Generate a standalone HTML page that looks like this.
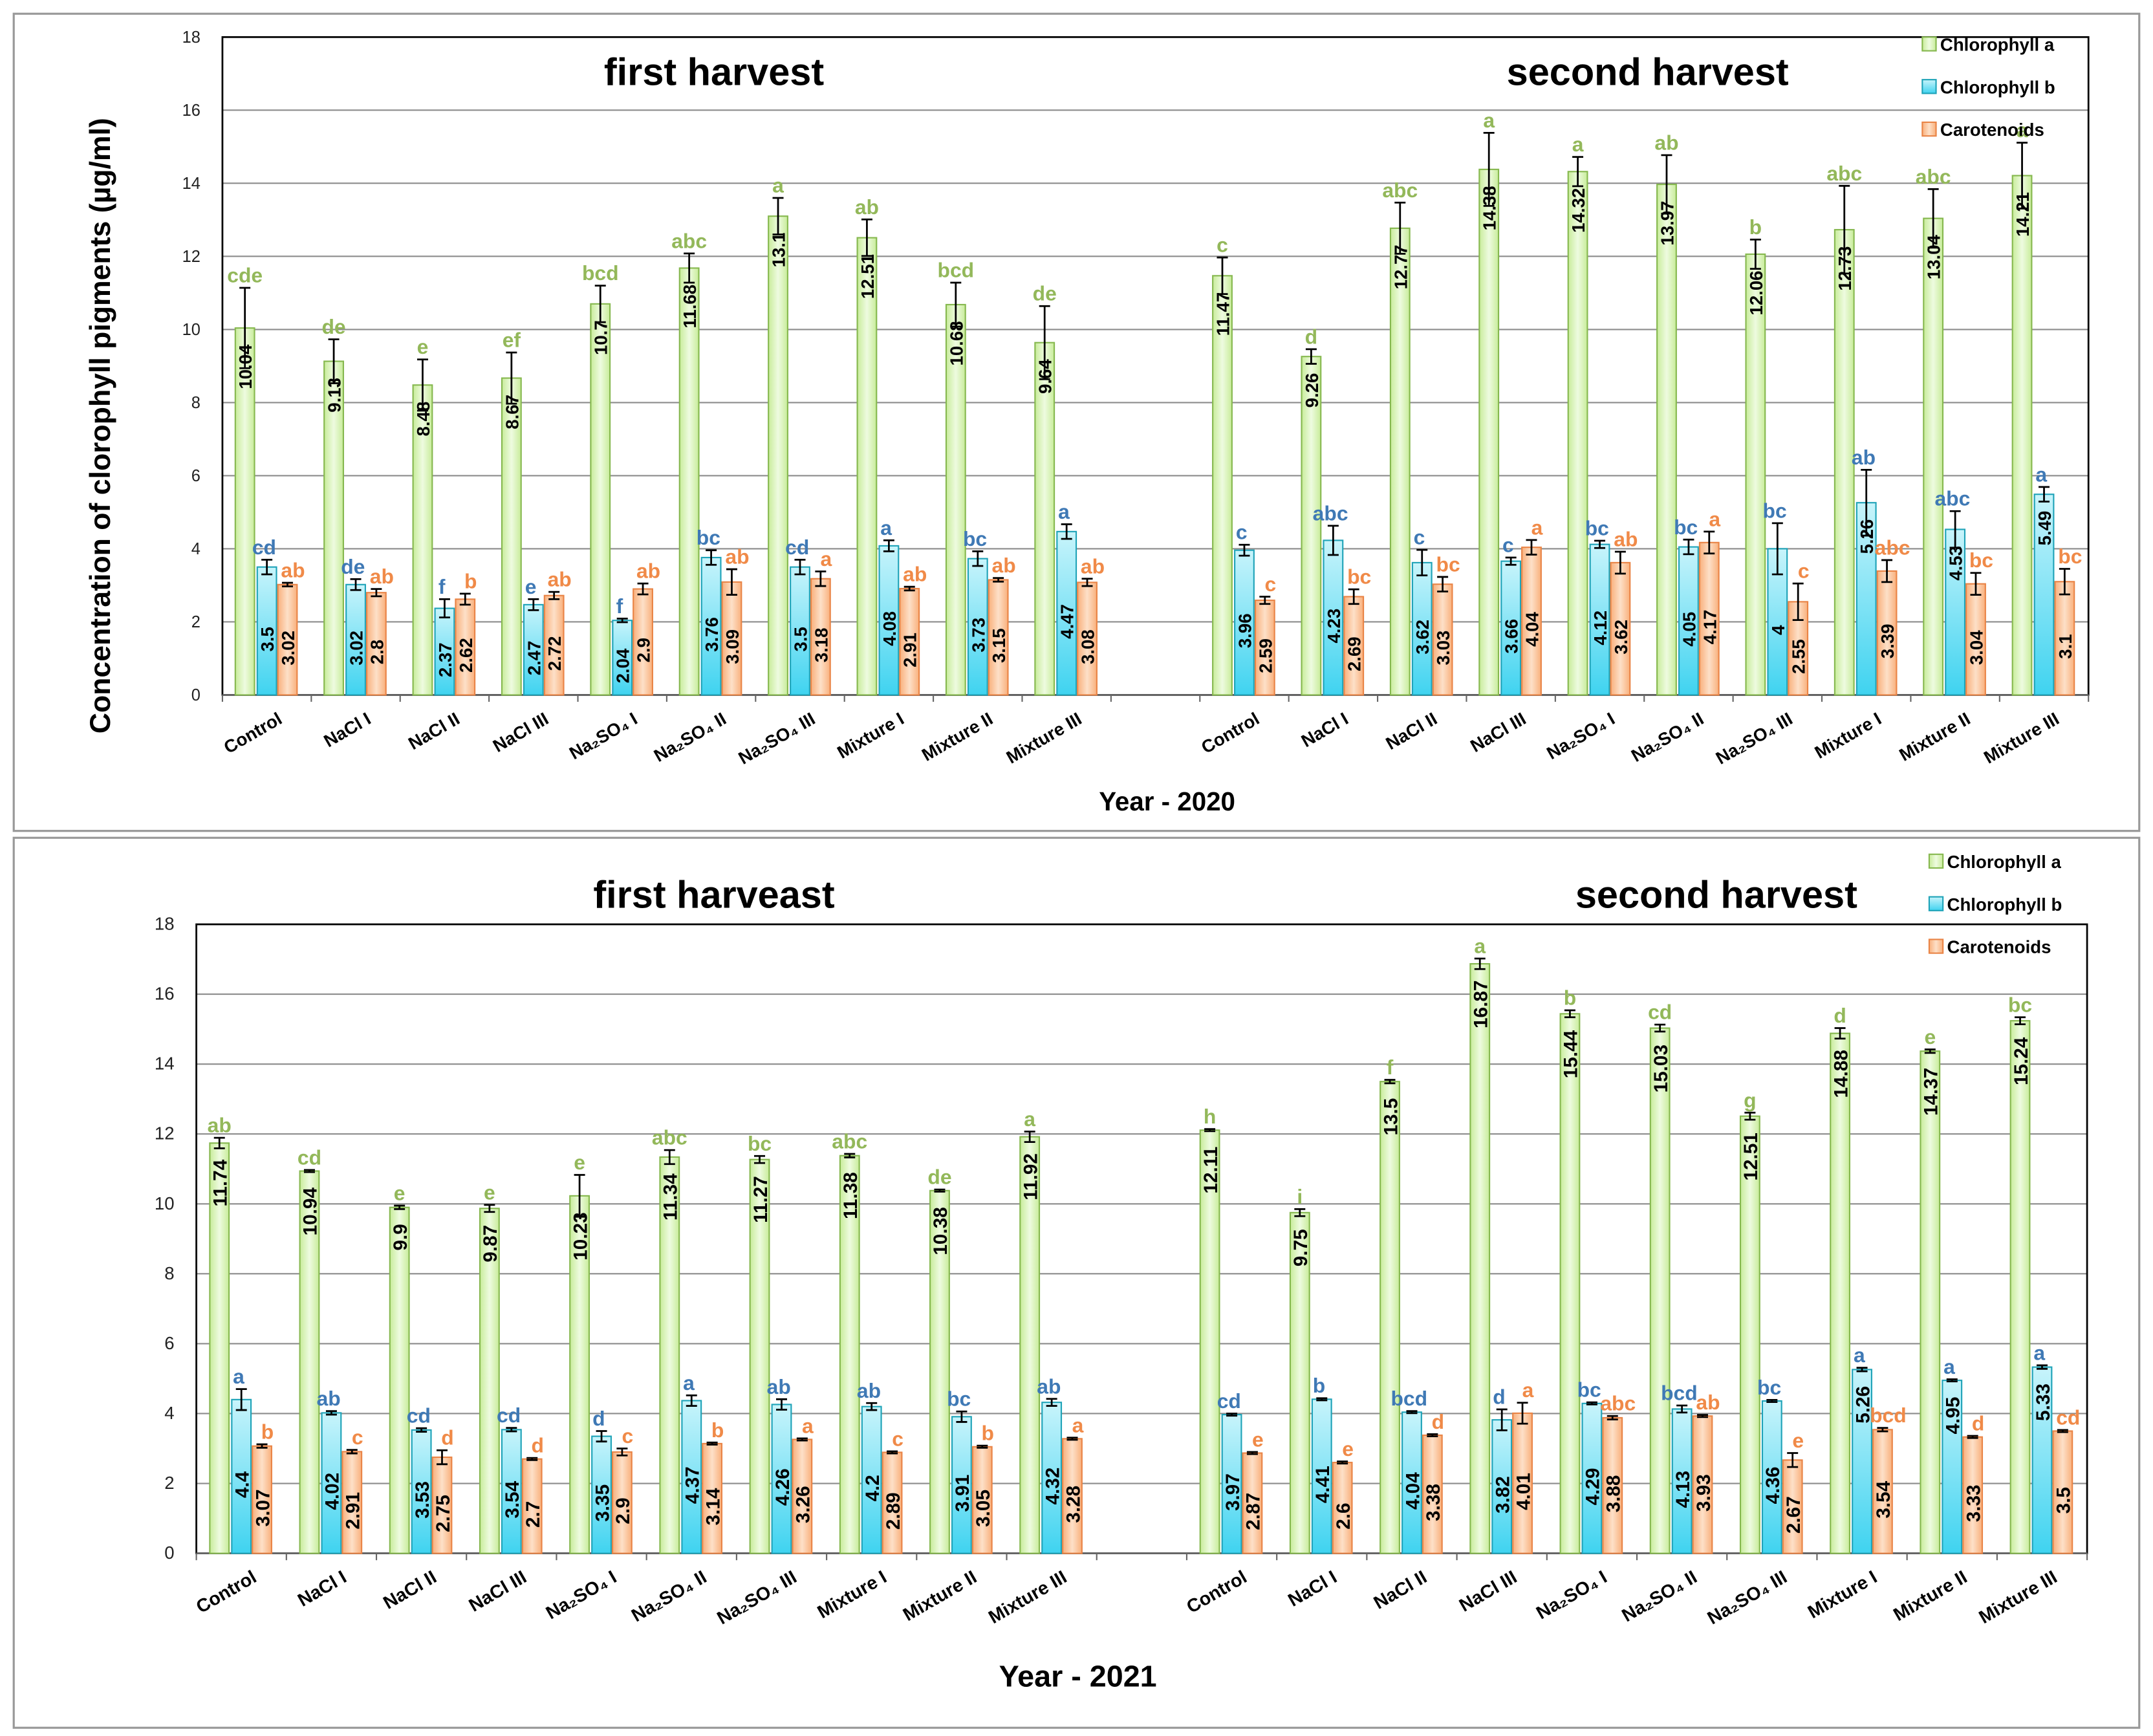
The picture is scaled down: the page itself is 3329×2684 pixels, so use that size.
<!DOCTYPE html>
<html><head><meta charset="utf-8"><style>
html,body{margin:0;padding:0;background:#fff}
svg{display:block}
text{font-family:"Liberation Sans","DejaVu Sans",sans-serif}
</style></head><body>
<svg id="svg" width="3329" height="2684" viewBox="0 0 1568 1264" preserveAspectRatio="none" xmlns="http://www.w3.org/2000/svg">
<defs>
<linearGradient id="gA" x1="0" x2="1"><stop offset="0" stop-color="#c8ec9a"/><stop offset="0.5" stop-color="#eefbe0"/><stop offset="1" stop-color="#c8ec9a"/></linearGradient>
<linearGradient id="gB" x1="0" y1="0" x2="0" y2="1"><stop offset="0" stop-color="#c8f4fb"/><stop offset="1" stop-color="#3fd3f0"/></linearGradient>
<linearGradient id="gC" x1="0" x2="1"><stop offset="0" stop-color="#f9b07c"/><stop offset="0.5" stop-color="#fde0c8"/><stop offset="1" stop-color="#f9b07c"/></linearGradient>
</defs>
<rect x="10" y="10" width="1548" height="595" fill="#fff" stroke="#999" stroke-width="1.5"/>
<rect x="10" y="610" width="1548" height="648" fill="#fff" stroke="#999" stroke-width="1.5"/>
<text transform="translate(80,310) rotate(-90)" text-anchor="middle" font-size="21" font-weight="bold" fill="#000">Concentration of clorophyll pigments (µg/ml)</text>
<g id="top"></g><g id="bot"></g>
</svg>
<script>
const categories=["Control","NaCl I","NaCl II","NaCl III","Na₂SO₄ I","Na₂SO₄ II","Na₂SO₄ III","Mixture I","Mixture II","Mixture III"];
const yTicks=[0,2,4,6,8,10,12,14,16,18];
// 2020
const a20f=[10.04,9.13,8.48,8.67,10.7,11.68,13.1,12.51,10.68,9.64];
const b20f=[3.5,3.02,2.37,2.47,2.04,3.76,3.5,4.08,3.73,4.47];
const c20f=[3.02,2.8,2.62,2.72,2.9,3.09,3.18,2.91,3.15,3.08];
const a20s=[11.47,9.26,12.77,14.38,14.32,13.97,12.06,12.73,13.04,14.21];
const b20s=[3.96,4.23,3.62,3.66,4.12,4.05,4,5.26,4.53,5.49];
const c20s=[2.59,2.69,3.03,4.04,3.62,4.17,2.55,3.39,3.04,3.1];
const ea20f=[1.1,0.6,0.7,0.7,0.5,0.4,0.5,0.5,0.6,1.0];
const eb20f=[0.2,0.15,0.25,0.15,0.05,0.2,0.2,0.15,0.2,0.2];
const ec20f=[0.05,0.1,0.15,0.1,0.15,0.35,0.2,0.05,0.05,0.1];
const ea20s=[0.5,0.2,0.7,1.0,0.4,0.8,0.4,1.2,0.8,0.9];
const eb20s=[0.15,0.4,0.35,0.1,0.1,0.2,0.7,0.9,0.5,0.2];
const ec20s=[0.1,0.2,0.2,0.2,0.3,0.3,0.5,0.3,0.3,0.35];
const la20f=["cde","de","e","ef","bcd","abc","a","ab","bcd","de"];
const lb20f=["cd","de","f","e","f","bc","cd","a","bc","a"];
const lc20f=["ab","ab","b","ab","ab","ab","a","ab","ab","ab"];
const la20s=["c","d","abc","a","a","ab","b","abc","abc","a"];
const lb20s=["c","abc","c","c","bc","bc","bc","ab","abc","a"];
const lc20s=["c","bc","bc","a","ab","a","c","abc","bc","bc"];
// 2021
const a21f=[11.74,10.94,9.9,9.87,10.23,11.34,11.27,11.38,10.38,11.92];
const b21f=[4.4,4.02,3.53,3.54,3.35,4.37,4.26,4.2,3.91,4.32];
const c21f=[3.07,2.91,2.75,2.7,2.9,3.14,3.26,2.89,3.05,3.28];
const a21s=[12.11,9.75,13.5,16.87,15.44,15.03,12.51,14.88,14.37,15.24];
const b21s=[3.97,4.41,4.04,3.82,4.29,4.13,4.36,5.26,4.95,5.33];
const c21s=[2.87,2.6,3.38,4.01,3.88,3.93,2.67,3.54,3.33,3.5];
const ea21f=[0.15,0.03,0.05,0.1,0.6,0.2,0.1,0.05,0.03,0.15];
const eb21f=[0.3,0.05,0.05,0.05,0.15,0.15,0.15,0.1,0.15,0.1];
const ec21f=[0.05,0.05,0.2,0.03,0.1,0.03,0.03,0.03,0.03,0.03];
const ea21s=[0.03,0.1,0.05,0.15,0.1,0.1,0.1,0.15,0.05,0.1];
const eb21s=[0.03,0.03,0.03,0.3,0.03,0.1,0.03,0.05,0.03,0.05];
const ec21s=[0.03,0.03,0.03,0.3,0.05,0.03,0.2,0.05,0.03,0.03];
const la21f=["ab","cd","e","e","e","abc","bc","abc","de","a"];
const lb21f=["a","ab","cd","cd","d","a","ab","ab","bc","ab"];
const lc21f=["b","c","d","d","c","b","a","c","b","a"];
const la21s=["h","i","f","a","b","cd","g","d","e","bc"];
const lb21s=["cd","b","bcd","d","bc","bcd","bc","a","a","a"];
const lc21s=["e","e","d","a","abc","ab","e","bcd","d","cd"];

const NS="http://www.w3.org/2000/svg";
function mk(p,tag,at,txt){const e=document.createElementNS(NS,tag);for(const k in at)e.setAttribute(k,at[k]);if(txt!==undefined)e.textContent=txt;p.appendChild(e);return e;}

function chart(gid,cfg){
  const g=document.getElementById(gid);
  const {L,T,R,B,vs,fs,title1,title2,t1x,t2x,ty,year,yearY,legX,legY,legDy,tickLbl}=cfg;
  const y=v=>B-(v/18)*(B-T);
  const slot=(R-L)/21;
  const xc=i=>L+(i+0.5)*slot;
  yTicks.forEach(t=>{
    if(t>0){const gl=mk(g,'line',{x1:L,x2:R,y1:y(t),y2:y(t),stroke:'#8c8c8c','stroke-width':1});
    }
    const tl=mk(g,'text',{x:L-16,y:y(t)+4,'text-anchor':'end','font-size':tickLbl,fill:'#222'},String(t));
    
  });
  const pf=mk(g,'rect',{x:L,y:T,width:R-L,height:B-T,fill:'none',stroke:'#000','stroke-width':1.3});
  
  const xa=mk(g,'line',{x1:L,x2:R,y1:B,y2:B,stroke:'#666','stroke-width':1.3});
  
  for(let i=0;i<=21;i++){const tk=mk(g,'line',{x1:L+i*slot,x2:L+i*slot,y1:B,y2:B+5,stroke:'#666'});
    }
  const series=[
    {fill:'url(#gA)',stroke:'#86b84f',lc:'#93b85a',off:-16,name:'chlorophyll-a'},
    {fill:'url(#gB)',stroke:'#1fa3b8',lc:'#3f79b5',off:0,name:'chlorophyll-b'},
    {fill:'url(#gC)',stroke:'#e98446',lc:'#f08a48',off:15,name:'carotenoids'}];
  const groups=[[cfg.a1,cfg.b1,cfg.c1,cfg.ea1,cfg.eb1,cfg.ec1,cfg.la1,cfg.lb1,cfg.lc1,0],
                [cfg.a2,cfg.b2,cfg.c2,cfg.ea2,cfg.eb2,cfg.ec2,cfg.la2,cfg.lb2,cfg.lc2,11]];
  const bw=14;
  groups.forEach(gr=>{
    for(let i=0;i<10;i++){
      const ci=gr[9]+i;
      [0,1,2].forEach(s=>{
        const v=gr[s][i],e=gr[3+s][i],lab=gr[6+s][i],S=series[s];
        const cx=xc(ci)+S.off;
        const r=mk(g,'rect',{x:cx-bw/2,y:y(v),width:bw,height:B-y(v),fill:S.fill,stroke:S.stroke,'stroke-width':1});
        
        const eb=mk(g,'path',{d:`M${cx} ${y(v+e)}V${y(v-e)}M${cx-4} ${y(v+e)}H${cx+4}M${cx-4} ${y(v-e)}H${cx+4}`,stroke:'#000','stroke-width':1.3,fill:'none'});
        
        const lx=cx+(s===1?-2:(s===2?4:0));
        const lt=mk(g,'text',{x:lx,y:y(v+e)-4,'text-anchor':'middle','font-size':cfg.lfs,'font-weight':'bold',fill:S.lc},lab);
        
        const h=B-y(v);let tx,anchor;
        if(h>120){tx=y(v)+12;anchor='end';}else{tx=(y(v)+B)/2+6;anchor='middle';}
        const vt=mk(g,'text',{transform:`translate(${cx+vs*0.38},${tx}) rotate(-90)`,'text-anchor':anchor,'font-size':vs,'font-weight':'bold',fill:'#000'},String(v));
        
      });
      const xl=mk(g,'text',{transform:`translate(${xc(ci)+12},${B+20}) rotate(-30)`,'text-anchor':'end','font-size':fs,'font-weight':'bold',fill:'#000'},categories[i]);
      
    }
  });
  const h1=mk(g,'text',{x:t1x,y:ty,'text-anchor':'middle','font-size':28,'font-weight':'bold',fill:'#000'},title1);
  
  const h2=mk(g,'text',{x:t2x,y:ty,'text-anchor':'middle','font-size':28,'font-weight':'bold',fill:'#000','xml:space':'preserve'},title2);
  
  const yr=mk(g,'text',{x:cfg.yearX,y:yearY,'text-anchor':'middle','font-size':cfg.yfs,'font-weight':'bold',fill:'#000'},year);
  
  ['Chlorophyll a','Chlorophyll b','Carotenoids'].forEach((n,k)=>{
    const sw=mk(g,'rect',{x:legX,y:legY+k*legDy-6,width:10,height:10,fill:series[k].fill,stroke:series[k].stroke});
    
    const lt=mk(g,'text',{x:legX+13,y:legY+k*legDy+4,'font-size':13,'font-weight':'bold',fill:'#000'},n);
    
  });
}
chart('top',{L:162,T:27,R:1521,B:506,vs:13,fs:13,lfs:15,tickLbl:12,title1:'first harvest',title2:'second harvest',t1x:520,t2x:1200,ty:62,year:'Year - 2020',yearX:850,yearY:590,yfs:19,legX:1400,legY:33,legDy:31,
 a1:a20f,b1:b20f,c1:c20f,ea1:ea20f,eb1:eb20f,ec1:ec20f,la1:la20f,lb1:lb20f,lc1:lc20f,
 a2:a20s,b2:b20s,c2:c20s,ea2:ea20s,eb2:eb20s,ec2:ec20s,la2:la20s,lb2:lb20s,lc2:lc20s});
chart('bot',{L:143,T:673,R:1520,B:1131,vs:14,fs:13.5,lfs:15,tickLbl:13,title1:'first harveast',title2:'second  harvest',t1x:520,t2x:1250,ty:661,year:'Year - 2021',yearX:785,yearY:1228,yfs:22,legX:1405,legY:628,legDy:31,
 a1:a21f,b1:b21f,c1:c21f,ea1:ea21f,eb1:eb21f,ec1:ec21f,la1:la21f,lb1:lb21f,lc1:lc21f,
 a2:a21s,b2:b21s,c2:c21s,ea2:ea21s,eb2:eb21s,ec2:ec21s,la2:la21s,lb2:lb21s,lc2:lc21s});
</script>
</body></html>
